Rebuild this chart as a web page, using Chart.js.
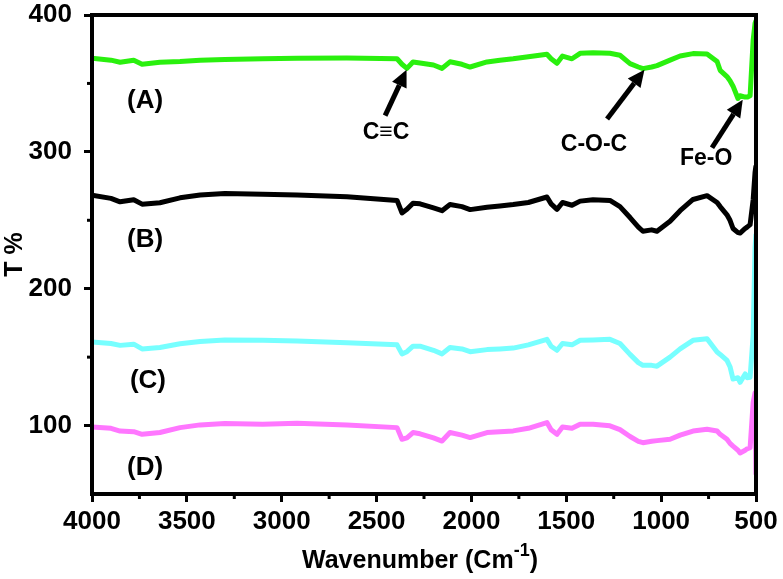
<!DOCTYPE html>
<html lang="en">
<head>
  <meta charset="UTF-8" />
  <title>FTIR spectra</title>
  <script src="https://cdn.jsdelivr.net/npm/chart.js"></script>
  <style>
    body { margin: 0; background: #fff; }
  </style>
</head>
<body>
  <canvas id="ftir" width="783" height="579"></canvas>

  <script>
    // wavenumber (cm-1) shared by all four spectra
    const wavenumber = [4000, 3900, 3852, 3780, 3736, 3642, 3536, 3430, 3300, 3100, 2919, 2656, 2392, 2366, 2340,
      2308, 2271, 2200, 2155, 2113, 2050, 2007, 1918, 1850, 1780, 1700, 1602, 1580, 1549, 1520, 1470, 1427, 1359,
      1270, 1217, 1164, 1120, 1096, 1050, 1022, 953, 900, 832, 758, 705, 689, 653, 637, 621, 595, 584, 557, 547,
      531, 515, 505, 500];

    const seriesA = [368.4, 367, 365.5, 367, 364, 365.4, 366, 367, 367.5, 368, 368.4, 368.5, 368, 364, 361,
      365.7, 365, 363.5, 361, 365.8, 364, 362, 365.7, 367, 368, 369.5, 371.3, 368, 364.7, 370, 368, 372, 372.5,
      372, 370.6, 364.5, 362, 360.8, 362, 363, 367, 370, 371.8, 371.5, 366, 359.6, 355, 352, 348, 339, 341, 340, 340,
      341, 381.6, 394, 396];

    const seriesB = [268.4, 266, 263.5, 265, 261.8, 262.8, 266.4, 268.5, 269.5, 269, 268.4, 267.2, 264.5, 255.4, 258,
      262.5, 262, 259, 257, 261.5, 260, 257.8, 259.5, 260.5, 261.5, 263, 267, 262, 258, 263, 261, 264, 265,
      264.5, 260, 252, 245, 242, 243, 242, 249.3, 257, 265.2, 268, 263, 260, 254, 250, 244, 241, 240.7, 244, 245,
      246.8, 265, 285, 290];

    const seriesC = [161, 160, 158.6, 159.5, 156, 157, 159.8, 161.5, 162.5, 162.3, 161.8, 160.5, 159, 152.4, 154,
      158, 158, 155, 152.4, 157, 156, 154, 155.5, 156, 156.6, 159, 163, 158, 155, 160, 159, 162.3, 162.5,
      163, 160, 152, 146, 144, 144, 143.4, 150, 156, 162.3, 163.5, 153.7, 152, 147.6, 143, 134, 135, 131.6, 137.7, 135,
      135.3, 166, 230, 240];

    const seriesD = [99, 98, 96, 95.5, 93.6, 94.9, 98.5, 100.5, 101.5, 101, 101.7, 100.5, 98.5, 90, 91,
      94.9, 94, 91, 88.7, 94.9, 93, 91.2, 94.9, 95.5, 96.1, 98, 102.2, 97, 93.6, 99, 98, 101, 101,
      99.8, 97, 92, 88.5, 87.5, 88.5, 89, 90, 93, 96, 97.3, 96, 93.6, 90, 87, 85, 82, 80, 82, 83,
      83.8, 116.9, 124, 64];

    const seriesNames = ['(A)', '(B)', '(C)', '(D)'];
    const seriesColors = ['#2af00e', '#000000', '#77ffff', '#ff77ff'];
    const xTicks = [4000, 3500, 3000, 2500, 2000, 1500, 1000, 500];
    const yTicks = [100, 200, 300, 400];
    const peakLabels = ['C\u2261C', 'C-O-C', 'Fe-O'];

    const FONT = '"Liberation Sans", Arial, sans-serif';

    function toPoints(ys) {
      return ys.map((y, i) => ({ x: wavenumber[i], y }));
    }

    function arrow(ctx, x1, y1, x2, y2) {
      const ang = Math.atan2(y2 - y1, x2 - x1);
      const head = 17, half = 8;
      const bx = x2 - head * Math.cos(ang), by = y2 - head * Math.sin(ang);
      ctx.beginPath();
      ctx.moveTo(x1, y1);
      ctx.lineTo(bx, by);
      ctx.lineWidth = 5;
      ctx.strokeStyle = '#000';
      ctx.stroke();
      ctx.beginPath();
      ctx.moveTo(x2, y2);
      ctx.lineTo(bx + half * Math.sin(ang), by - half * Math.cos(ang));
      ctx.lineTo(bx - half * Math.sin(ang), by + half * Math.cos(ang));
      ctx.closePath();
      ctx.fillStyle = '#000';
      ctx.fill();
    }

    // frame, minor ticks, curve labels, peak arrows and the x title with superscript
    const decorations = {
      id: 'decorations',
      afterDraw(chart) {
        const { ctx, chartArea: a, scales: { x, y } } = chart;
        ctx.save();

        ctx.strokeStyle = '#000';
        ctx.lineWidth = 4;
        ctx.strokeRect(a.left, a.top, a.right - a.left, a.bottom - a.top);

        // minor ticks
        ctx.lineWidth = 3;
        [3750, 3250, 2750, 2250, 1750, 1250, 750].forEach(w => {
          const px = x.getPixelForValue(w);
          ctx.beginPath();
          ctx.moveTo(px, a.bottom);
          ctx.lineTo(px, a.bottom + 5);
          ctx.stroke();
        });
        [150, 250, 350].forEach(v => {
          const py = y.getPixelForValue(v);
          ctx.beginPath();
          ctx.moveTo(a.left, py);
          ctx.lineTo(a.left - 5, py);
          ctx.stroke();
        });

        ctx.fillStyle = '#000';
        ctx.textAlign = 'center';
        ctx.textBaseline = 'middle';
        ctx.font = 'bold 26px ' + FONT;
        const nameAt = [[3720, 337.5], [3720, 236], [3705, 133], [3720, 69]];
        seriesNames.forEach((n, i) => {
          ctx.fillText(n, x.getPixelForValue(nameAt[i][0]), y.getPixelForValue(nameAt[i][1]));
        });

        ctx.font = 'bold 23px ' + FONT;
        const peakText = [[2450, 314], [1354, 305], [763, 295]];
        const peakArrow = [
          [2455, 326.5, 2342, 360],
          [1285, 324, 1088, 360],
          [732, 303, 570, 338]
        ];
        peakLabels.forEach((t, i) => {
          ctx.fillText(t, x.getPixelForValue(peakText[i][0]), y.getPixelForValue(peakText[i][1]));
          const [w1, v1, w2, v2] = peakArrow[i];
          arrow(ctx, x.getPixelForValue(w1), y.getPixelForValue(v1), x.getPixelForValue(w2), y.getPixelForValue(v2));
        });

        // x axis title: Wavenumber (Cm^-1)
        const main = 'Wavenumber (Cm', sup = '-1', tail = ')';
        ctx.textAlign = 'left';
        ctx.textBaseline = 'alphabetic';
        ctx.font = 'bold 25px ' + FONT;
        const wMain = ctx.measureText(main).width, wTail = ctx.measureText(tail).width;
        ctx.font = 'bold 18px ' + FONT;
        const wSup = ctx.measureText(sup).width;
        let cx = (a.left + a.right) / 2 - 4 - (wMain + wSup + wTail) / 2;
        const base = a.bottom + 74;
        ctx.font = 'bold 25px ' + FONT;
        ctx.fillText(main, cx, base);
        cx += wMain;
        ctx.font = 'bold 18px ' + FONT;
        ctx.fillText(sup, cx, base - 12);
        cx += wSup;
        ctx.font = 'bold 25px ' + FONT;
        ctx.fillText(tail, cx, base);

        ctx.restore();
      }
    };

    const tickFont = { family: FONT, size: 26, weight: 'bold' };

    new Chart(document.getElementById('ftir'), {
      type: 'line',
      data: {
        datasets: [seriesA, seriesB, seriesC, seriesD].map((s, i) => ({
          label: seriesNames[i],
          data: toPoints(s),
          borderColor: seriesColors[i],
          borderWidth: 5,
          pointRadius: 0,
          tension: 0,
          borderJoinStyle: 'round',
          fill: false
        }))
      },
      options: {
        responsive: false,
        animation: false,
        layout: { padding: { top: 15, right: 27, bottom: 0, left: 0 } },
        plugins: { legend: { display: false }, tooltip: { enabled: false } },
        scales: {
          x: {
            type: 'linear',
            reverse: true,
            min: 500,
            max: 4000,
            afterFit: s => { s.height = 85; s.paddingLeft = 0; s.paddingRight = 0; },
            afterBuildTicks: s => { s.ticks = xTicks.map(v => ({ value: v })); },
            ticks: { font: tickFont, color: '#000', padding: 4, maxRotation: 0, autoSkip: false, callback: v => String(v) },
            grid: { drawOnChartArea: false, tickLength: 8, tickWidth: 3, tickColor: '#000' },
            border: { color: '#000', width: 4 }
          },
          y: {
            min: 50,
            max: 400,
            afterFit: s => { s.width = 92; s.paddingTop = 0; s.paddingBottom = 0; },
            afterBuildTicks: s => { s.ticks = yTicks.map(v => ({ value: v })); },
            ticks: { font: tickFont, color: '#000', padding: 12, callback: v => String(v) },
            grid: { drawOnChartArea: false, tickLength: 8, tickWidth: 3, tickColor: '#000' },
            border: { color: '#000', width: 4 },
            title: { display: true, text: 'T %', color: '#000', font: { family: FONT, size: 25, weight: 'bold' }, padding: 0 }
          }
        }
      },
      plugins: [decorations]
    });
  </script>
</body>
</html>
